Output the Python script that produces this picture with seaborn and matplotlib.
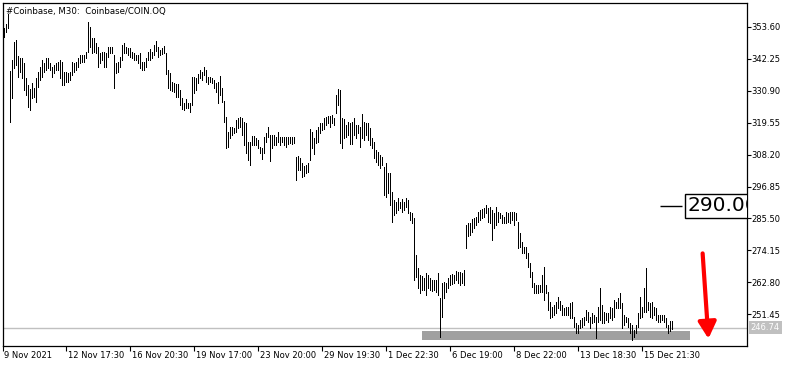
import numpy as np
import pandas as pd
import matplotlib
matplotlib.use("Agg")
import matplotlib.pyplot as plt
import matplotlib.transforms as mtransforms
import seaborn as sns

# ---------------- data ----------------
title = "#Coinbase, M30:  Coinbase/COIN.OQ"

highs = [
    353.1, 354.6, 358.1, 337.9, 341.8, 348.2, 348.9, 343.2, 342.5, 342.5,
    340.7, 335.4, 332.9, 331.5, 333.6, 331.8, 335.4, 337.5, 339.3, 341.8,
    340.7, 342.5, 342.5, 340.7, 339.3, 340.0, 340.7, 341.1, 341.8, 341.1,
    337.5, 337.5, 337.2, 337.5, 341.1, 340.7, 341.1, 342.5, 343.5, 343.5,
    343.5, 344.6, 355.3, 353.5, 349.6, 349.6, 347.8, 346.4, 344.2, 344.6,
    344.6, 344.2, 346.4, 346.4, 346.4, 343.5, 340.7, 341.1, 342.8, 347.1,
    347.8, 346.4, 346.0, 346.0, 344.6, 344.2, 343.5, 343.5, 344.2, 341.1,
    341.1, 342.5, 344.6, 345.7, 344.6, 347.1, 348.5, 346.4, 345.3, 346.0,
    346.7, 344.2, 338.2, 337.2, 334.0, 333.6, 333.3, 333.3, 331.1, 328.3,
    326.5, 327.9, 326.5, 326.5, 335.7, 335.7, 335.4, 336.8, 338.2, 337.5,
    339.3, 338.2, 335.7, 335.7, 335.4, 334.7, 333.6, 334.0, 336.1, 331.8,
    327.2, 321.5, 316.2, 318.0, 318.0, 317.7, 320.5, 321.2, 321.5, 321.2,
    319.8, 319.4, 312.7, 312.7, 314.8, 314.8, 314.1, 313.4, 310.9, 310.6,
    314.4, 315.9, 318.0, 315.2, 315.2, 315.2, 314.4, 316.2, 314.4, 314.4,
    314.4, 314.4, 314.4, 314.4, 314.4, 314.4, 307.3, 307.7, 307.0, 305.2,
    304.1, 304.5, 305.2, 317.3, 316.2, 314.1, 316.9, 318.0, 319.4, 319.4,
    321.2, 321.5, 321.9, 321.9, 322.3, 321.2, 329.4, 331.5, 331.1, 321.2,
    320.8, 318.7, 319.8, 319.4, 319.8, 321.2, 318.7, 318.7, 318.0, 322.6,
    319.8, 319.4, 319.4, 317.7, 314.1, 312.7, 309.8, 309.1, 308.1, 307.3,
    303.8, 305.2, 301.7, 301.7, 294.9, 292.1, 291.3, 292.8, 291.3, 292.4,
    291.3, 292.8, 292.1, 287.8, 287.4, 285.7, 272.5, 267.9, 265.4, 265.1,
    264.3, 266.1, 265.4, 264.3, 263.6, 263.6, 263.6, 266.1, 257.3, 262.6,
    263.0, 262.6, 264.3, 265.4, 265.8, 265.4, 266.8, 266.5, 266.5, 266.1,
    267.2, 283.2, 283.9, 283.9, 285.3, 285.7, 286.0, 287.8, 288.5, 288.9,
    289.2, 290.3, 289.2, 289.6, 288.5, 287.4, 289.6, 287.8, 287.4, 286.7,
    286.0, 287.8, 287.4, 287.8, 287.8, 287.8, 287.4, 284.2, 280.3, 277.1,
    275.4, 275.4, 273.2, 269.7, 266.5, 262.6, 261.9, 261.9, 261.9, 265.4,
    268.3, 261.9, 259.4, 255.8, 254.1, 254.8, 255.8, 257.6, 256.2, 254.8,
    253.7, 254.1, 254.1, 255.5, 255.8, 250.5, 248.4, 247.7, 249.5, 250.2,
    250.5, 253.0, 252.3, 250.5, 251.9, 251.2, 250.5, 254.1, 260.8, 254.8,
    252.3, 251.9, 251.9, 254.1, 253.7, 256.6, 255.8, 257.3, 259.0, 255.5,
    251.2, 250.5, 250.2, 248.4, 247.7, 245.9, 247.7, 251.9, 257.6, 254.1,
    260.8, 267.9, 255.8, 255.5, 255.8, 254.1, 253.7, 251.2, 251.2, 251.2,
    251.2, 250.2, 247.7, 249.1, 249.1,
]

lows = [
    349.9, 351.7, 353.1, 319.8, 328.3, 338.9, 340.0, 335.7, 337.5, 335.4,
    331.1, 329.4, 325.1, 324.0, 328.3, 328.6, 326.9, 332.2, 334.7, 335.7,
    337.5, 338.2, 338.9, 338.2, 335.7, 337.2, 338.2, 338.2, 335.4, 332.9,
    332.9, 334.0, 334.0, 334.7, 336.5, 337.5, 338.2, 339.3, 340.7, 341.1,
    341.1, 342.5, 344.6, 346.4, 344.2, 344.6, 344.2, 339.3, 340.7, 341.8,
    339.3, 339.3, 342.8, 344.2, 344.2, 331.8, 337.2, 337.5, 339.3, 341.8,
    344.2, 344.2, 343.5, 342.8, 342.5, 341.8, 341.8, 340.7, 338.9, 338.2,
    338.2, 339.3, 341.8, 341.8, 342.5, 343.5, 345.0, 342.8, 343.5, 343.9,
    344.2, 336.8, 331.8, 331.1, 330.8, 330.4, 328.6, 328.6, 325.8, 324.4,
    324.0, 324.7, 324.7, 323.3, 325.8, 330.1, 331.1, 333.6, 335.4, 334.7,
    336.5, 334.0, 333.3, 334.0, 333.6, 331.8, 330.4, 326.5, 329.4, 326.9,
    319.8, 310.6, 310.9, 314.1, 315.2, 315.9, 316.2, 317.7, 318.0, 315.2,
    311.6, 308.8, 306.3, 304.5, 311.6, 311.6, 311.6, 310.6, 308.8, 306.6,
    308.8, 312.7, 314.4, 305.9, 310.6, 311.6, 311.6, 312.7, 311.6, 312.7,
    311.6, 310.9, 312.0, 312.3, 312.0, 312.3, 299.2, 302.7, 302.7, 300.2,
    300.6, 301.7, 302.0, 306.3, 310.6, 308.4, 312.3, 312.7, 315.9, 316.9,
    317.3, 318.7, 319.4, 318.0, 319.4, 318.7, 323.0, 325.8, 312.3, 310.6,
    314.1, 314.4, 315.2, 312.0, 312.0, 315.2, 314.1, 315.9, 310.9, 314.1,
    313.4, 315.2, 313.4, 311.6, 310.6, 307.0, 305.6, 304.5, 303.4, 304.5,
    293.8, 293.1, 294.5, 290.3, 284.2, 286.7, 287.4, 288.5, 289.2, 287.8,
    288.5, 289.6, 287.4, 285.0, 283.9, 263.6, 264.7, 260.8, 259.0, 260.1,
    260.1, 258.3, 260.8, 260.1, 259.8, 260.1, 259.4, 258.3, 243.4, 250.5,
    257.3, 259.4, 260.8, 261.9, 262.3, 262.6, 263.6, 262.6, 261.9, 262.6,
    261.9, 275.0, 279.3, 279.7, 280.7, 282.1, 283.2, 284.2, 285.0, 285.7,
    286.0, 287.4, 284.2, 283.9, 277.9, 282.1, 283.2, 284.2, 285.7, 283.9,
    283.9, 283.9, 284.2, 283.9, 285.0, 283.2, 285.0, 275.0, 275.4, 273.2,
    273.2, 271.5, 268.3, 264.7, 261.2, 259.0, 259.0, 259.0, 259.4, 259.4,
    256.6, 259.0, 253.0, 250.2, 250.5, 251.2, 251.9, 253.7, 253.0, 251.2,
    251.2, 251.2, 251.2, 250.2, 250.2, 247.0, 244.8, 244.8, 246.6, 247.0,
    247.7, 249.5, 248.7, 246.6, 248.4, 248.7, 243.1, 248.7, 249.5, 248.4,
    248.4, 249.5, 248.7, 250.2, 249.5, 250.5, 253.7, 253.7, 253.7, 246.6,
    247.7, 248.7, 247.0, 244.8, 242.4, 243.4, 244.8, 247.0, 250.2, 250.5,
    252.3, 252.3, 253.0, 250.5, 250.2, 251.2, 249.5, 248.7, 248.7, 249.5,
    248.7, 247.0, 244.8, 245.5, 246.3,
]

x_tick_labels = ["9 Nov 2021", "12 Nov 17:30", "16 Nov 20:30", "19 Nov 17:00",
                 "23 Nov 20:00", "29 Nov 19:30", "1 Dec 22:30", "6 Dec 19:00",
                 "8 Dec 22:00", "13 Dec 18:30", "15 Dec 21:30"]
y_ticks = [251.45, 262.80, 274.15, 285.50, 296.85, 308.20, 319.55, 330.90, 342.25, 353.60]

last_price = 246.74
level_price = 290.00
level_label = "290.00"
zone_low, zone_high = 242.4, 245.6          # grey support zone (price)
zone_start, zone_end = 208.9, 343.0          # grey support zone (bar index)
arrow_from = (349.3, 273.1)                  # (bar index, price)
arrow_to = (352.2, 242.8)
level_line_from, level_line_to = 328.0, 339.0

# ---------------- style ----------------
sns.set_style("white")
plt.rcParams["font.family"] = ["DejaVu Sans"]
plt.rcParams["text.color"] = "black"

fig = plt.figure(figsize=(7.95, 3.67), dpi=100)
W, H = 795, 367
ax = fig.add_axes([2.5 / W, 21.5 / H, 744 / W, 343 / H])

n = len(highs)
bars = np.arange(n)
df = pd.DataFrame({
    "bar": np.concatenate([bars, bars]),
    "price": np.concatenate([lows, highs]),
})

# support zone (behind bars)
ax.fill_between([zone_start, zone_end], zone_low, zone_high,
                color="#a0a0a0", lw=0, zorder=1)
# last price line
ax.axhline(last_price, color="#c0c0c0", lw=1, zorder=1)

sns.lineplot(data=df, x="bar", y="price", units="bar", estimator=None,
             color="black", lw=0.72, ax=ax, zorder=3, antialiased=False,
             legend=False)

# 290 level marker
ax.hlines(level_price, level_line_from, level_line_to, color="black", lw=1, zorder=4)
ax.text(level_line_to + 2.5, level_price, level_label, fontsize=14.5,
        color="black", va="center", ha="left", zorder=5, clip_on=True,
        bbox=dict(boxstyle="square,pad=0.12", fc="white", ec="black", lw=1))

# red arrow
ax.annotate("", xy=arrow_to, xytext=arrow_from,
            arrowprops=dict(arrowstyle="-|>,head_length=0.55,head_width=0.3",
                            color="#ff0000", lw=3, mutation_scale=18,
                            shrinkA=0, shrinkB=0), zorder=6)

# axes limits
ax.set_xlim(-0.75, 371.25)
ax.set_ylim(240.39, 362.19)

# ticks
ax.yaxis.tick_right()
ax.set_yticks(y_ticks)
ax.set_yticklabels([f"{v:.2f}" for v in y_ticks])
xt = np.arange(len(x_tick_labels)) * 32 - 1
ax.set_xticks(xt)
ax.set_xticklabels(x_tick_labels, ha="left")
ax.tick_params(axis="x", direction="out", length=3.5, width=0.8, pad=0.5,
               labelsize=6, colors="black", bottom=True)
ax.tick_params(axis="y", direction="out", length=3.0, width=0.8, pad=0.6,
               labelsize=6, colors="black", right=True, left=False)
for lbl in ax.get_xticklabels():
    lbl.set_transform(lbl.get_transform() + mtransforms.ScaledTranslation(1.5 / 100, 0, fig.dpi_scale_trans))
ax.set_xlabel("")
ax.set_ylabel("")
for s in ax.spines.values():
    s.set_color("black")
    s.set_linewidth(0.9)

# last price tag on the axis
trans = mtransforms.blended_transform_factory(ax.transAxes, ax.transData)
ax.text(1.0055, last_price, f"{last_price:.2f}", transform=trans, fontsize=6,
        color="white", va="center", ha="left", clip_on=False,
        bbox=dict(boxstyle="square,pad=0.25", fc="#c0c0c0", ec="none"))

# title
ax.text(0.005, 0.975, title, transform=ax.transAxes, fontsize=6.2,
        va="center", ha="left", color="black")

fig.savefig("out.png", dpi=100)
